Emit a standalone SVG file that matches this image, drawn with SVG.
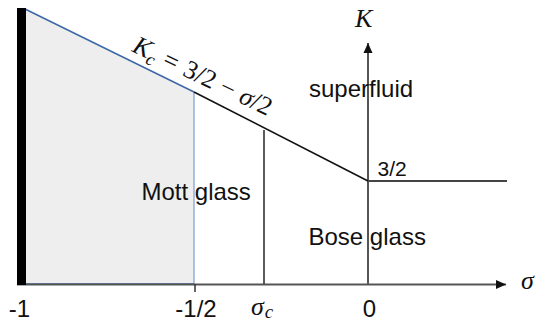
<svg xmlns="http://www.w3.org/2000/svg" width="538" height="325" viewBox="0 0 538 325">
<style>
.lbl{font-family:"Liberation Sans",Arial,sans-serif;fill:#111;}
.m{font-family:"Liberation Serif","Times New Roman",serif;fill:#111;}
.i{font-style:italic;}
.ax{stroke:#555;stroke-width:2;fill:none;}
</style>
<defs>
<marker id="arr" viewBox="0 0 10 10" refX="10" refY="5" markerWidth="10" markerHeight="10" markerUnits="userSpaceOnUse" orient="auto">
<path d="M0,0.5 L10,5 L0,9.5 Z" fill="#111"/>
</marker>
</defs>
<g id="mott-region">
<polygon points="25,9 194,92 194,284 25,284" fill="#eeeeee" stroke="none"/>
<polyline points="25,9 194,92" fill="none" stroke="#3b67a8" stroke-width="1.5"/>
<line x1="194" y1="92" x2="194" y2="284" stroke="#86a4d4" stroke-width="1.3"/>
<line x1="20" y1="284" x2="194" y2="284" stroke="#3b67a8" stroke-width="1.3"/>
</g>
<g id="connectors">
<line class="ax" x1="17" y1="284.5" x2="506" y2="284.5" marker-end="url(#arr)"/>
<line class="ax" x1="368" y1="284" x2="368" y2="43" marker-end="url(#arr)"/>
<line x1="194" y1="92" x2="368" y2="181" stroke="#111" stroke-width="1.6"/>
<line x1="368" y1="181" x2="507" y2="181" stroke="#444" stroke-width="2"/>
<line x1="264" y1="130" x2="264" y2="284" stroke="#333" stroke-width="1.6"/>
<line x1="195" y1="284" x2="195" y2="292" stroke="#333" stroke-width="1.5"/>
<rect x="17" y="8" width="9" height="277" fill="#000"/>
</g>
<g id="labels">
<text class="m" font-size="26" transform="translate(131,51) rotate(25.5)"><tspan class="i">K</tspan><tspan class="i" font-size="18" dy="5">c</tspan><tspan dy="-5" dx="8">=</tspan><tspan dx="8">3/2</tspan><tspan dx="7">−</tspan><tspan class="i" dx="7">σ</tspan><tspan>/2</tspan></text>
<text class="m i" font-size="26" x="355" y="27">K</text>
<text class="m i" font-size="26" x="521" y="289">σ</text>
<text class="m i" font-size="26" x="251" y="315">σ<tspan font-size="19" dx="1" dy="3">c</tspan></text>
<text class="lbl" font-size="24" x="141.5" y="200">Mott glass</text>
<text class="lbl" font-size="24" x="309" y="96.5">superfluid</text>
<text class="lbl" font-size="24" x="308.5" y="245">Bose glass</text>
<text class="lbl" font-size="21" x="377.5" y="176">3/2</text>
<text class="lbl" font-size="24" x="19.5" y="317" text-anchor="middle">-1</text>
<text class="lbl" font-size="24" x="196" y="317" text-anchor="middle">-1/2</text>
<text class="lbl" font-size="24" x="369.5" y="317" text-anchor="middle">0</text>
</g>
</svg>
